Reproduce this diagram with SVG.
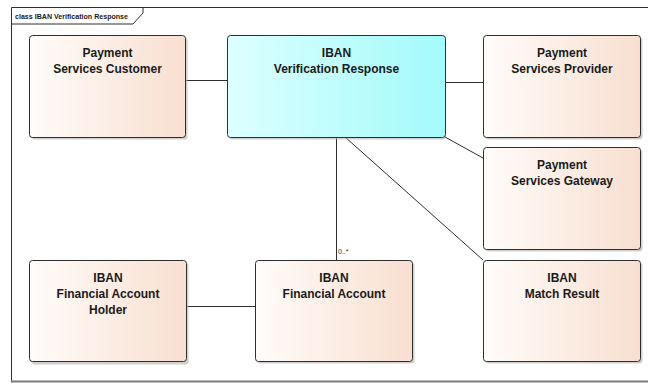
<svg xmlns="http://www.w3.org/2000/svg" width="648" height="383" viewBox="0 0 648 383">
<defs>
<linearGradient id="peach" x1="0" y1="0" x2="1" y2="0">
<stop offset="0" stop-color="#FFFCFA"/>
<stop offset="1" stop-color="#F8DFD0"/>
</linearGradient>
<linearGradient id="cyan" x1="0" y1="0" x2="1" y2="0">
<stop offset="0" stop-color="#DDFFFF"/>
<stop offset="1" stop-color="#A3FAFA"/>
</linearGradient>
</defs>
<style>
.shadow{fill:#B0B0B0;opacity:0.6}
.box{stroke:#2E2E2E;stroke-width:1}
.peach{fill:url(#peach)}
.cyan{fill:url(#cyan)}
.lbl{font-family:"Liberation Sans",Arial,sans-serif;font-weight:bold;font-size:12px;fill:#1A1A1A;text-anchor:middle}
.conn line{stroke:#2E2E2E;stroke-width:1}
.small{font-family:"Liberation Sans",Arial,sans-serif;font-size:7px;fill:#333}
</style>
<rect x="0" y="0" width="648" height="383" fill="#FFFFFF"/>
<g id="frame">
<path d="M11.5,381 V7.5 H649" fill="none" stroke="#2E2E2E" stroke-width="1"/>
<line x1="11" y1="381.5" x2="649" y2="381.5" stroke="#7A7A7A" stroke-width="2"/>
<path d="M11.5,24 H133 L143,13 V7.5" fill="none" stroke="#2E2E2E" stroke-width="1"/>
<text x="15" y="18.5" font-family="'Liberation Sans',Arial,sans-serif" font-weight="bold" font-size="7" textLength="113" lengthAdjust="spacingAndGlyphs" fill="#1A1A1A">class IBAN Verification Response</text>
</g>
<g id="connectors" class="conn">
<line x1="186" y1="80.5" x2="227" y2="80.5"/>
<line x1="446" y1="82.5" x2="483" y2="82.5"/>
<line x1="445" y1="137" x2="483" y2="158"/>
<line x1="345" y1="137" x2="483" y2="260"/>
<line x1="336.5" y1="137" x2="336.5" y2="260"/>
<line x1="187" y1="306.5" x2="255" y2="306.5"/>
<text class="small" x="338" y="254">0..*</text>
</g>
<g id="payment-services-customer">
<rect class="shadow" x="31.5" y="37.5" width="156" height="102" rx="3"/>
<rect class="box peach" x="29.5" y="35.5" width="156" height="102" rx="3"/>
<text class="lbl" x="107.5" y="57">Payment</text>
<text class="lbl" x="107.5" y="73">Services Customer</text>
</g>
<g id="iban-verification-response">
<rect class="shadow" x="229.5" y="37.5" width="216" height="102" rx="3"/>
<rect class="box cyan" x="227.5" y="35.5" width="218" height="102" rx="3"/>
<text class="lbl" x="336.5" y="57">IBAN</text>
<text class="lbl" x="336.5" y="73">Verification Response</text>
</g>
<g id="payment-services-provider">
<rect class="shadow" x="485.5" y="37.5" width="157" height="102" rx="3"/>
<rect class="box peach" x="483.5" y="35.5" width="157" height="102" rx="3"/>
<text class="lbl" x="562" y="57">Payment</text>
<text class="lbl" x="562" y="73">Services Provider</text>
</g>
<g id="payment-services-gateway">
<rect class="shadow" x="485.5" y="149.5" width="157" height="102" rx="3"/>
<rect class="box peach" x="483.5" y="147.5" width="157" height="102" rx="3"/>
<text class="lbl" x="562" y="169">Payment</text>
<text class="lbl" x="562" y="185">Services Gateway</text>
</g>
<g id="iban-financial-account-holder">
<rect class="shadow" x="31.5" y="262.5" width="157" height="102" rx="3"/>
<rect class="box peach" x="29.5" y="260.5" width="157" height="101" rx="3"/>
<text class="lbl" x="108" y="282">IBAN</text>
<text class="lbl" x="108" y="298">Financial Account</text>
<text class="lbl" x="108" y="314">Holder</text>
</g>
<g id="iban-financial-account">
<rect class="shadow" x="257.5" y="262.5" width="157" height="101" rx="3"/>
<rect class="box peach" x="255.5" y="260.5" width="157" height="101" rx="3"/>
<text class="lbl" x="334" y="282">IBAN</text>
<text class="lbl" x="334" y="298">Financial Account</text>
</g>
<g id="iban-match-result">
<rect class="shadow" x="485.5" y="262.5" width="157" height="101" rx="3"/>
<rect class="box peach" x="483.5" y="260.5" width="157" height="101" rx="3"/>
<text class="lbl" x="562" y="282">IBAN</text>
<text class="lbl" x="562" y="298">Match Result</text>
</g>
</svg>
